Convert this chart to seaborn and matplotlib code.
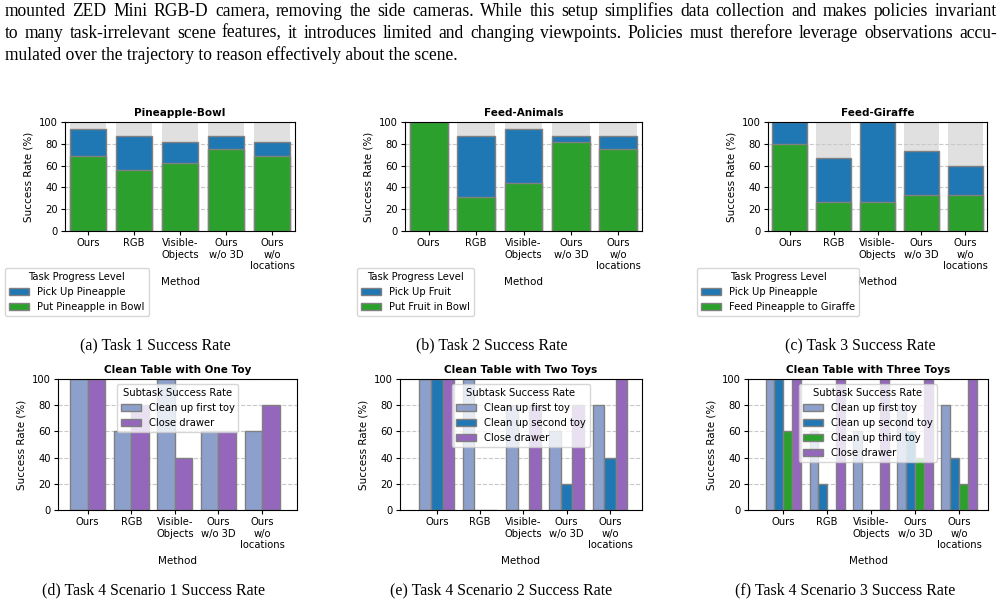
import matplotlib
matplotlib.use("Agg")
import matplotlib.pyplot as plt
import seaborn as sns
import pandas as pd

# ---- data ----
methods = ["Ours", "RGB", "Visible-\nObjects", "Ours\nw/o 3D", "Ours\nw/o\nlocations"]
full = [100, 100, 100, 100, 100]

# tasks 1-3: highest progress level reached (%)
t1_pick = [93.75, 87.5, 81.25, 87.5, 81.25]
t1_place = [68.75, 56.25, 62.5, 75.0, 68.75]
t2_pick = [100, 87.5, 93.75, 87.5, 87.5]
t2_place = [100, 31.25, 43.75, 81.25, 75.0]
t3_pick = [100, 66.7, 100, 73.3, 60.0]
t3_place = [80.0, 26.7, 26.7, 33.3, 33.3]

# task 4 subtasks (%)
s1_first = [100, 60, 100, 60, 60]
s1_drawer = [100, 80, 40, 60, 80]
s2_first = [100, 100, 80, 60, 80]
s2_second = [100, 0, 0, 20, 40]
s2_drawer = [100, 0, 80, 80, 100]
s3_first = [100, 60, 60, 80, 80]
s3_second = [100, 20, 0, 60, 40]
s3_third = [60, 0, 0, 40, 20]
s3_drawer = [100, 100, 100, 100, 100]

body = [
    "mounted ZED Mini RGB-D camera, removing the side cameras. While this setup simplifies data collection and makes policies invariant",
    "to many task-irrelevant scene features, it introduces limited and changing viewpoints. Policies must therefore leverage observations accu-",
    "mulated over the trajectory to reason effectively about the scene.",
]
captions = ["(a) Task 1 Success Rate", "(b) Task 2 Success Rate", "(c) Task 3 Success Rate",
            "(d) Task 4 Scenario 1 Success Rate", "(e) Task 4 Scenario 2 Success Rate",
            "(f) Task 4 Scenario 3 Success Rate"]

BG = "#e0e0e0"
BLUE = "#1f77b4"
GREEN = "#2ca02c"
LIGHT = "#8da0cb"
PURPLE = "#9467bd"
EDGE = "#808080"
LEG = 7.2

W, H = 1002, 605
fig = plt.figure(figsize=(W / 100, H / 100), dpi=100)


def rect(x0, x1, y0, y1):
    return [x0 / W, 1 - y1 / H, (x1 - x0) / W, (y1 - y0) / H]


def style(ax, title):
    ax.set_ylim(0, 100)
    ax.set_yticks([0, 20, 40, 60, 80, 100])
    ax.set_axisbelow("line")
    ax.yaxis.grid(True, ls="--", color="#c8c8c8", lw=0.8)
    ax.set_title(title, fontsize=7.5, fontweight="bold", pad=4)
    ax.set_xlabel("Method", fontsize=7.5)
    ax.set_ylabel("Success Rate (%)", fontsize=7.5)
    ax.tick_params(labelsize=7.2, length=3, pad=2)


def stacked(r, title, pick, place, labels, anchor):
    ax = fig.add_axes(r)
    sns.barplot(x=methods, y=full, color=BG, saturation=1, linewidth=0, width=0.8, zorder=1, ax=ax)
    sns.barplot(x=methods, y=pick, color=BLUE, saturation=1, edgecolor=EDGE, linewidth=1,
                width=0.8, zorder=2, label=labels[0], ax=ax)
    sns.barplot(x=methods, y=place, color=GREEN, saturation=1, edgecolor=EDGE, linewidth=1,
                width=0.8, zorder=2, label=labels[1], ax=ax)
    style(ax, title)
    ax.set_xlim(-0.5, 4.5)
    ax.legend(title="Task Progress Level", loc="upper left", bbox_to_anchor=anchor,
              borderaxespad=0, fontsize=LEG, title_fontsize=LEG)


def grouped(r, title, series, names, colors, xlim):
    ax = fig.add_axes(r)
    df = pd.DataFrame({
        "Method": methods * len(series),
        "Rate": sum(series, []),
        "Subtask": [n for n in names for _ in methods],
    })
    sns.barplot(data=df, x="Method", y="Rate", hue="Subtask", hue_order=names,
                palette=dict(zip(names, colors)), saturation=1, edgecolor=EDGE,
                linewidth=1, width=0.8, zorder=2, ax=ax)
    style(ax, title)
    ax.set_xlim(*xlim)
    ax.legend(title="Subtask Success Rate", loc="upper center", fontsize=LEG, title_fontsize=LEG)


stacked(rect(65, 295, 122, 231), "Pineapple-Bowl", t1_pick, t1_place,
        ["Pick Up Pineapple", "Put Pineapple in Bowl"], (-0.26, -0.34))
stacked(rect(405, 642, 122, 231), "Feed-Animals", t2_pick, t2_place,
        ["Pick Up Fruit", "Put Fruit in Bowl"], (-0.203, -0.34))
stacked(rect(768, 987, 122, 231), "Feed-Giraffe", t3_pick, t3_place,
        ["Pick Up Pineapple", "Feed Pineapple to Giraffe"], (-0.324, -0.34))

grouped(rect(58, 297, 379, 510), "Clean Table with One Toy", [s1_first, s1_drawer],
        ["Clean up first toy", "Close drawer"], [LIGHT, PURPLE], (-0.68, 4.8))
grouped(rect(400, 642, 379, 510), "Clean Table with Two Toys", [s2_first, s2_second, s2_drawer],
        ["Clean up first toy", "Clean up second toy", "Close drawer"], [LIGHT, BLUE, PURPLE], (-0.85, 4.74))
grouped(rect(748, 988, 379, 510), "Clean Table with Three Toys",
        [s3_first, s3_second, s3_third, s3_drawer],
        ["Clean up first toy", "Clean up second toy", "Clean up third toy", "Close drawer"],
        [LIGHT, BLUE, GREEN, PURPLE], (-0.8, 4.66))

# ---- paper text around the figure ----
serif = "Liberation Serif"
renderer = fig.canvas.get_renderer()
probe = fig.text(0, 0, captions[3], family=serif, fontsize=10)
cap_size = 10 * 223 / probe.get_window_extent(renderer).width
probe.set_text(body[1])
body_size = 10 * 965 / probe.get_window_extent(renderer).width
probe.remove()

line_y = [11, 33, 55]
x0, x1 = 5, 997
for i, line in enumerate(body):
    y = 1 - line_y[i] / H
    if i == len(body) - 1:
        fig.text(x0 / W, y, line, family=serif, fontsize=body_size, va="center")
        continue
    words = line.split()
    texts = [fig.text(0, y, w, family=serif, fontsize=body_size, va="center") for w in words]
    widths = [t.get_window_extent(renderer).width for t in texts]
    gap = (x1 - x0 - sum(widths)) / (len(words) - 1)
    x = x0
    for t, w in zip(texts, widths):
        t.set_x(x / W)
        x += w + gap

cap_pos = [(155, 345), (492, 345), (860, 345), (154, 590), (501, 590), (845, 590)]
for c, (cx, cy) in zip(captions, cap_pos):
    fig.text(cx / W, 1 - cy / H, c, family=serif, fontsize=cap_size, ha="center", va="center")

fig.savefig("out.png", dpi=100)
